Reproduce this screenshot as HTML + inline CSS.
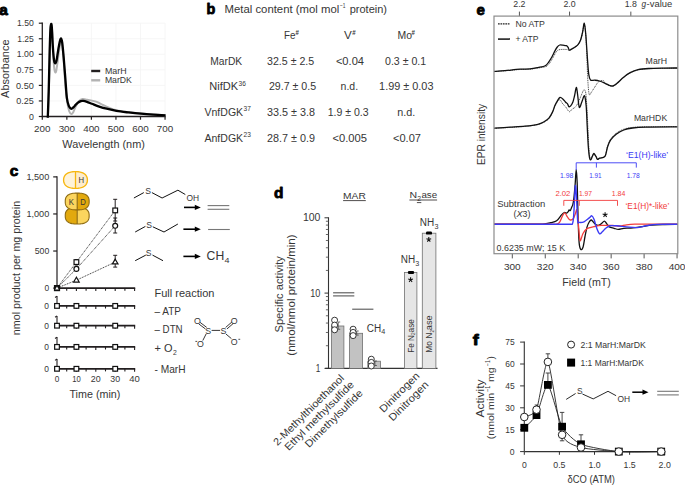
<!DOCTYPE html>
<html><head><meta charset="utf-8"><style>
html,body{margin:0;padding:0;background:#fff;}
svg{display:block;}
svg{font-family:"Liberation Sans", sans-serif;}
</style></head><body>
<svg fill="#363636" width="685" height="485" viewBox="0 0 685 485">
<rect width="685" height="485" fill="#fff"/>
<defs><clipPath id="clipa"><rect x="42" y="0" width="130" height="117"/></clipPath></defs>
<line x1="91.40" y1="23.20" x2="91.40" y2="116.50" stroke="#f4f4f4" stroke-width="0.8"/>
<line x1="115.95" y1="23.20" x2="115.95" y2="116.50" stroke="#f4f4f4" stroke-width="0.8"/>
<line x1="140.50" y1="23.20" x2="140.50" y2="116.50" stroke="#f4f4f4" stroke-width="0.8"/>
<line x1="165.05" y1="23.20" x2="165.05" y2="116.50" stroke="#f4f4f4" stroke-width="0.8"/>
<line x1="42.30" y1="100.95" x2="165.05" y2="100.95" stroke="#f4f4f4" stroke-width="0.8"/>
<line x1="42.30" y1="85.40" x2="165.05" y2="85.40" stroke="#f4f4f4" stroke-width="0.8"/>
<line x1="42.30" y1="69.85" x2="165.05" y2="69.85" stroke="#f4f4f4" stroke-width="0.8"/>
<line x1="42.30" y1="54.30" x2="165.05" y2="54.30" stroke="#f4f4f4" stroke-width="0.8"/>
<line x1="42.30" y1="38.75" x2="165.05" y2="38.75" stroke="#f4f4f4" stroke-width="0.8"/>
<line x1="42.30" y1="23.20" x2="165.05" y2="23.20" stroke="#f4f4f4" stroke-width="0.8"/>
<text x="-0.70" y="14.60" font-size="15" textLength="8.60" lengthAdjust="spacingAndGlyphs" font-weight="bold" fill="#000" stroke="#000" stroke-width="0.85" stroke-linejoin="round">a</text>
<line x1="38.80" y1="116.50" x2="42.30" y2="116.50" stroke="#231f20" stroke-width="1.2"/>
<text x="33.80" y="119.60" font-size="8.8" text-anchor="end" textLength="4.90" lengthAdjust="spacingAndGlyphs">0</text>
<line x1="38.80" y1="100.95" x2="42.30" y2="100.95" stroke="#231f20" stroke-width="1.2"/>
<text x="33.80" y="104.05" font-size="8.8" text-anchor="end" textLength="17.60" lengthAdjust="spacingAndGlyphs">0.25</text>
<line x1="38.80" y1="85.40" x2="42.30" y2="85.40" stroke="#231f20" stroke-width="1.2"/>
<text x="33.80" y="88.50" font-size="8.8" text-anchor="end" textLength="17.80" lengthAdjust="spacingAndGlyphs">0.50</text>
<line x1="38.80" y1="69.85" x2="42.30" y2="69.85" stroke="#231f20" stroke-width="1.2"/>
<text x="33.80" y="72.95" font-size="8.8" text-anchor="end" textLength="17.20" lengthAdjust="spacingAndGlyphs">0.75</text>
<line x1="38.80" y1="54.30" x2="42.30" y2="54.30" stroke="#231f20" stroke-width="1.2"/>
<text x="33.80" y="57.40" font-size="8.8" text-anchor="end" textLength="17.00" lengthAdjust="spacingAndGlyphs">1.00</text>
<line x1="38.80" y1="38.75" x2="42.30" y2="38.75" stroke="#231f20" stroke-width="1.2"/>
<text x="33.80" y="41.85" font-size="8.8" text-anchor="end" textLength="16.60" lengthAdjust="spacingAndGlyphs">1.25</text>
<line x1="38.80" y1="23.20" x2="42.30" y2="23.20" stroke="#231f20" stroke-width="1.2"/>
<text x="33.80" y="26.30" font-size="8.8" text-anchor="end" textLength="16.80" lengthAdjust="spacingAndGlyphs">1.50</text>
<line x1="42.30" y1="116.50" x2="42.30" y2="119.70" stroke="#231f20" stroke-width="1.2"/>
<text x="42.30" y="131.60" font-size="8.9" text-anchor="middle" textLength="16.40" lengthAdjust="spacingAndGlyphs">200</text>
<line x1="66.85" y1="116.50" x2="66.85" y2="119.70" stroke="#231f20" stroke-width="1.2"/>
<text x="66.85" y="131.60" font-size="8.9" text-anchor="middle" textLength="16.40" lengthAdjust="spacingAndGlyphs">300</text>
<line x1="91.40" y1="116.50" x2="91.40" y2="119.70" stroke="#231f20" stroke-width="1.2"/>
<text x="91.40" y="131.60" font-size="8.9" text-anchor="middle" textLength="16.40" lengthAdjust="spacingAndGlyphs">400</text>
<line x1="115.95" y1="116.50" x2="115.95" y2="119.70" stroke="#231f20" stroke-width="1.2"/>
<text x="115.95" y="131.60" font-size="8.9" text-anchor="middle" textLength="16.40" lengthAdjust="spacingAndGlyphs">500</text>
<line x1="140.50" y1="116.50" x2="140.50" y2="119.70" stroke="#231f20" stroke-width="1.2"/>
<text x="140.50" y="131.60" font-size="8.9" text-anchor="middle" textLength="16.40" lengthAdjust="spacingAndGlyphs">600</text>
<line x1="165.05" y1="116.50" x2="165.05" y2="119.70" stroke="#231f20" stroke-width="1.2"/>
<text x="165.05" y="131.60" font-size="8.9" text-anchor="middle" textLength="16.40" lengthAdjust="spacingAndGlyphs">700</text>
<line x1="42.30" y1="22.60" x2="42.30" y2="117.10" stroke="#231f20" stroke-width="1.3"/>
<line x1="41.70" y1="116.50" x2="165.65" y2="116.50" stroke="#231f20" stroke-width="1.3"/>
<text x="103.60" y="147.70" font-size="10.8" text-anchor="middle" textLength="82.60" lengthAdjust="spacingAndGlyphs">Wavelength (nm)</text>
<text x="8.90" y="68.70" font-size="10.8" text-anchor="middle" textLength="58.40" lengthAdjust="spacingAndGlyphs" transform="rotate(-90 8.90 68.70)">Absorbance</text>
<line x1="91.20" y1="71.00" x2="100.20" y2="71.00" stroke="#231f20" stroke-width="2.4"/>
<line x1="91.20" y1="80.30" x2="100.20" y2="80.30" stroke="#b3b3b3" stroke-width="2.4"/>
<text x="104.90" y="73.50" font-size="9.6" textLength="21.70" lengthAdjust="spacingAndGlyphs">MarH</text>
<text x="104.90" y="82.90" font-size="9.6" textLength="27.00" lengthAdjust="spacingAndGlyphs">MarDK</text>
<path d="M47.96,117.74 C48.08,114.43 48.41,107.90 48.69,97.84 C48.98,87.78 49.35,68.81 49.67,57.41 C50.00,46.01 50.37,34.81 50.66,29.42 C50.94,24.03 51.15,24.55 51.39,25.07 C51.64,25.58 51.84,27.66 52.13,32.53 C52.42,37.40 52.74,48.18 53.11,54.30 C53.48,60.42 53.97,66.22 54.34,69.23 C54.71,72.23 54.99,72.13 55.32,72.34 C55.65,72.55 55.89,72.44 56.30,70.47 C56.71,68.50 57.24,64.25 57.78,60.52 C58.31,56.79 58.96,51.19 59.49,48.08 C60.03,44.97 60.52,42.27 60.97,41.86 C61.42,41.45 61.74,42.48 62.19,45.59 C62.64,48.70 63.14,53.89 63.67,60.52 C64.20,67.15 64.77,78.35 65.39,85.40 C66.00,92.45 66.70,98.46 67.35,102.82 C68.00,107.17 68.66,109.68 69.31,111.52 C69.97,113.37 70.62,113.78 71.28,113.89 C71.93,113.99 72.46,113.47 73.24,112.15 C74.02,110.82 74.96,107.79 75.94,105.93 C76.92,104.06 78.03,102.09 79.13,100.95 C80.24,99.81 81.26,99.29 82.57,99.08 C83.88,98.88 85.44,99.45 86.99,99.71 C88.54,99.97 90.26,100.28 91.90,100.64 C93.54,101.00 95.17,101.26 96.81,101.88 C98.45,102.50 99.67,103.39 101.72,104.37 C103.77,105.36 106.63,106.81 109.08,107.79 C111.54,108.78 113.18,109.53 116.45,110.28 C119.72,111.03 124.63,111.73 128.72,112.27 C132.82,112.81 136.91,113.14 141.00,113.51 C145.09,113.89 149.18,114.22 153.27,114.51 C157.37,114.80 163.50,115.13 165.55,115.26" stroke="#b3b3b3" stroke-width="2.0" fill="none" stroke-linejoin="round"/>
<path d="M47.78,117.74 C47.94,113.39 48.38,102.71 48.69,91.62 C49.01,80.53 49.39,61.56 49.67,51.19 C49.96,40.82 50.16,33.98 50.41,29.42 C50.66,24.86 50.90,24.03 51.15,23.82 C51.39,23.61 51.60,24.34 51.88,28.18 C52.17,32.01 52.50,41.45 52.87,46.84 C53.23,52.23 53.68,57.77 54.09,60.52 C54.50,63.27 54.91,63.32 55.32,63.32 C55.73,63.32 56.10,62.54 56.55,60.52 C57.00,58.50 57.49,54.30 58.02,51.19 C58.55,48.08 59.25,43.99 59.74,41.86 C60.23,39.73 60.56,38.34 60.97,38.44 C61.38,38.54 61.74,39.32 62.19,42.48 C62.64,45.64 63.14,51.29 63.67,57.41 C64.20,63.53 64.85,72.44 65.39,79.18 C65.92,85.92 66.29,93.38 66.86,97.84 C67.43,102.30 68.17,104.14 68.82,105.93 C69.48,107.71 70.21,108.12 70.79,108.54 C71.36,108.95 71.61,108.85 72.26,108.41 C72.91,107.98 73.81,106.86 74.72,105.93 C75.62,104.99 76.64,103.62 77.66,102.82 C78.68,102.01 79.91,101.39 80.85,101.07 C81.79,100.76 82.28,100.82 83.31,100.95 C84.33,101.08 85.56,101.42 86.99,101.88 C88.42,102.35 89.85,102.97 91.90,103.75 C93.95,104.53 96.81,105.72 99.26,106.55 C101.72,107.38 103.77,108.00 106.63,108.72 C109.49,109.45 112.77,110.28 116.45,110.90 C120.13,111.52 124.63,111.99 128.72,112.46 C132.82,112.92 136.91,113.34 141.00,113.70 C145.09,114.06 149.18,114.35 153.27,114.63 C157.37,114.91 163.50,115.26 165.55,115.38" stroke="#000" stroke-width="2.3" fill="none" stroke-linejoin="round"/>
<text x="206.60" y="14.40" font-size="15.2" textLength="8.80" lengthAdjust="spacingAndGlyphs" font-weight="bold" fill="#000" stroke="#000" stroke-width="0.85" stroke-linejoin="round">b</text>
<text x="224.50" y="13.00" font-size="10.6" textLength="114.80" lengthAdjust="spacingAndGlyphs">Metal content (mol mol</text>
<text x="340.00" y="8.00" font-size="6.6" textLength="5.50" lengthAdjust="spacingAndGlyphs">−1</text>
<text x="349.70" y="13.00" font-size="10.6" textLength="37.30" lengthAdjust="spacingAndGlyphs">protein)</text>
<text x="284.00" y="38.90" font-size="10.6" textLength="11.50" lengthAdjust="spacingAndGlyphs">Fe</text>
<text x="295.50" y="35.20" font-size="6.6" textLength="3.40" lengthAdjust="spacingAndGlyphs" font-weight="600">#</text>
<text x="343.90" y="38.90" font-size="10.6" textLength="7.80" lengthAdjust="spacingAndGlyphs">V</text>
<text x="352.30" y="35.20" font-size="6.6" textLength="3.40" lengthAdjust="spacingAndGlyphs" font-weight="600">#</text>
<text x="397.50" y="38.90" font-size="10.6" textLength="14.50" lengthAdjust="spacingAndGlyphs">Mo</text>
<text x="411.60" y="35.20" font-size="6.6" textLength="3.40" lengthAdjust="spacingAndGlyphs" font-weight="600">#</text>
<text x="210.30" y="64.80" font-size="10.6" textLength="31.90" lengthAdjust="spacingAndGlyphs">MarDK</text>
<text x="267.00" y="64.80" font-size="10.6" textLength="47.20" lengthAdjust="spacingAndGlyphs">32.5 ± 2.5</text>
<text x="335.90" y="64.80" font-size="10.6" textLength="28.10" lengthAdjust="spacingAndGlyphs">&lt;0.04</text>
<text x="385.00" y="64.80" font-size="10.6" textLength="41.20" lengthAdjust="spacingAndGlyphs">0.3 ± 0.1</text>
<text x="209.30" y="90.20" font-size="10.6" textLength="28.80" lengthAdjust="spacingAndGlyphs">NifDK</text>
<text x="238.50" y="85.70" font-size="7.6" textLength="7.30" lengthAdjust="spacingAndGlyphs">36</text>
<text x="268.90" y="90.20" font-size="10.6" textLength="47.20" lengthAdjust="spacingAndGlyphs">29.7 ± 0.5</text>
<text x="340.60" y="90.20" font-size="10.6" textLength="17.50" lengthAdjust="spacingAndGlyphs">n.d.</text>
<text x="379.10" y="90.20" font-size="10.6" textLength="54.40" lengthAdjust="spacingAndGlyphs">1.99 ± 0.03</text>
<text x="204.50" y="115.90" font-size="10.6" textLength="38.60" lengthAdjust="spacingAndGlyphs">VnfDGK</text>
<text x="243.50" y="111.40" font-size="7.6" textLength="7.30" lengthAdjust="spacingAndGlyphs">37</text>
<text x="267.00" y="115.90" font-size="10.6" textLength="47.90" lengthAdjust="spacingAndGlyphs">33.5 ± 3.8</text>
<text x="327.70" y="115.90" font-size="10.6" textLength="40.90" lengthAdjust="spacingAndGlyphs">1.9 ± 0.3</text>
<text x="397.30" y="115.90" font-size="10.6" textLength="18.00" lengthAdjust="spacingAndGlyphs">n.d.</text>
<text x="204.50" y="141.70" font-size="10.6" textLength="38.60" lengthAdjust="spacingAndGlyphs">AnfDGK</text>
<text x="243.50" y="137.20" font-size="7.6" textLength="7.30" lengthAdjust="spacingAndGlyphs">23</text>
<text x="267.00" y="141.70" font-size="10.6" textLength="47.90" lengthAdjust="spacingAndGlyphs">28.7 ± 0.9</text>
<text x="332.40" y="141.70" font-size="10.6" textLength="34.60" lengthAdjust="spacingAndGlyphs">&lt;0.005</text>
<text x="393.00" y="141.70" font-size="10.6" textLength="28.00" lengthAdjust="spacingAndGlyphs">&lt;0.07</text>
<text x="476.40" y="14.80" font-size="15.2" textLength="8.40" lengthAdjust="spacingAndGlyphs" font-weight="bold" fill="#000" stroke="#000" stroke-width="0.85" stroke-linejoin="round">e</text>
<line x1="519.41" y1="16.10" x2="519.41" y2="11.60" stroke="#555" stroke-width="1.0"/>
<text x="519.41" y="6.70" font-size="8.8" text-anchor="middle" textLength="12.20" lengthAdjust="spacingAndGlyphs">2.2</text>
<line x1="569.55" y1="16.10" x2="569.55" y2="11.60" stroke="#555" stroke-width="1.0"/>
<text x="569.55" y="6.70" font-size="8.8" text-anchor="middle" textLength="12.20" lengthAdjust="spacingAndGlyphs">2.0</text>
<line x1="630.83" y1="16.10" x2="630.83" y2="11.60" stroke="#555" stroke-width="1.0"/>
<text x="630.83" y="6.70" font-size="8.8" text-anchor="middle" textLength="12.20" lengthAdjust="spacingAndGlyphs">1.8</text>
<text x="641.60" y="6.70" font-size="8.8" textLength="4.60" lengthAdjust="spacingAndGlyphs" font-style="italic">g</text>
<text x="646.60" y="6.70" font-size="8.8" textLength="25.60" lengthAdjust="spacingAndGlyphs">-value</text>
<line x1="512.30" y1="253.70" x2="512.30" y2="258.40" stroke="#555" stroke-width="1.0"/>
<text x="512.30" y="270.20" font-size="8.6" text-anchor="middle" textLength="16.80" lengthAdjust="spacingAndGlyphs">300</text>
<line x1="545.25" y1="253.70" x2="545.25" y2="258.40" stroke="#555" stroke-width="1.0"/>
<text x="545.25" y="270.20" font-size="8.6" text-anchor="middle" textLength="16.80" lengthAdjust="spacingAndGlyphs">320</text>
<line x1="578.20" y1="253.70" x2="578.20" y2="258.40" stroke="#555" stroke-width="1.0"/>
<text x="578.20" y="270.20" font-size="8.6" text-anchor="middle" textLength="16.80" lengthAdjust="spacingAndGlyphs">340</text>
<line x1="611.15" y1="253.70" x2="611.15" y2="258.40" stroke="#555" stroke-width="1.0"/>
<text x="611.15" y="270.20" font-size="8.6" text-anchor="middle" textLength="16.80" lengthAdjust="spacingAndGlyphs">360</text>
<line x1="644.10" y1="253.70" x2="644.10" y2="258.40" stroke="#555" stroke-width="1.0"/>
<text x="644.10" y="270.20" font-size="8.6" text-anchor="middle" textLength="16.80" lengthAdjust="spacingAndGlyphs">380</text>
<line x1="677.05" y1="253.70" x2="677.05" y2="258.40" stroke="#555" stroke-width="1.0"/>
<text x="677.05" y="270.20" font-size="8.6" text-anchor="middle" textLength="16.80" lengthAdjust="spacingAndGlyphs">400</text>
<text x="586.60" y="286.40" font-size="10.6" text-anchor="middle" textLength="48.50" lengthAdjust="spacingAndGlyphs">Field (mT)</text>
<text x="485.30" y="134.50" font-size="10.0" text-anchor="middle" textLength="61.20" lengthAdjust="spacingAndGlyphs" transform="rotate(-90 485.30 134.50)">EPR intensity</text>
<line x1="498.00" y1="23.80" x2="509.90" y2="23.80" stroke="#222" stroke-width="1.2" stroke-dasharray="1.7 0.75"/>
<line x1="498.00" y1="39.10" x2="510.00" y2="39.10" stroke="#111" stroke-width="1.5"/>
<text x="515.40" y="26.60" font-size="8.4" textLength="29.50" lengthAdjust="spacingAndGlyphs">No ATP</text>
<text x="515.40" y="42.40" font-size="8.4" textLength="23.00" lengthAdjust="spacingAndGlyphs">+ ATP</text>
<text x="645.60" y="63.60" font-size="9.0" textLength="21.40" lengthAdjust="spacingAndGlyphs">MarH</text>
<text x="633.90" y="121.20" font-size="9.0" textLength="33.30" lengthAdjust="spacingAndGlyphs">MarHDK</text>
<text x="497.20" y="207.00" font-size="9.0" textLength="48.00" lengthAdjust="spacingAndGlyphs">Subtraction</text>
<text x="513.40" y="217.10" font-size="9.0">(</text>
<text x="516.60" y="217.10" font-size="9.0" textLength="6.20" lengthAdjust="spacingAndGlyphs" font-style="italic">X</text>
<text x="522.60" y="217.10" font-size="9.0" textLength="4.90" lengthAdjust="spacingAndGlyphs">3</text>
<text x="527.40" y="217.10" font-size="9.0">)</text>
<text x="496.60" y="250.80" font-size="8.6" textLength="68.60" lengthAdjust="spacingAndGlyphs">0.6235 mW; 15 K</text>
<path d="M494.20,71.60 C496.00,71.47 500.70,71.15 505.00,70.80 C509.30,70.45 515.83,69.77 520.00,69.50 C524.17,69.23 527.02,69.45 530.00,69.20 C532.98,68.95 535.27,68.43 537.90,68.00 C540.53,67.57 543.83,67.43 545.80,66.60 C547.77,65.77 548.45,64.60 549.70,63.00 C550.95,61.40 552.18,58.90 553.30,57.00 C554.42,55.10 555.45,52.80 556.40,51.60 C557.35,50.40 557.90,50.17 559.00,49.80 C560.10,49.43 561.58,49.43 563.00,49.40 C564.42,49.37 566.45,49.42 567.50,49.60 C568.55,49.78 568.65,50.50 569.30,50.50 C569.95,50.50 570.43,50.13 571.40,49.60 C572.37,49.07 574.00,48.10 575.10,47.30 C576.20,46.50 577.08,45.98 578.00,44.80 C578.92,43.62 579.83,42.25 580.60,40.20 C581.37,38.15 581.98,35.20 582.60,32.50 C583.22,29.80 583.77,23.42 584.30,24.00 C584.83,24.58 585.35,30.00 585.80,36.00 C586.25,42.00 586.67,52.67 587.00,60.00 C587.33,67.33 587.43,74.27 587.80,80.00 C588.17,85.73 588.58,92.40 589.20,94.40 C589.82,96.40 590.58,93.20 591.50,92.00 C592.42,90.80 593.50,88.93 594.70,87.20 C595.90,85.47 597.27,82.70 598.70,81.60 C600.13,80.50 602.22,80.27 603.30,80.60 C604.38,80.93 604.12,82.72 605.20,83.60 C606.28,84.48 608.48,85.45 609.80,85.90 C611.12,86.35 611.90,86.68 613.10,86.30 C614.30,85.92 615.25,85.07 617.00,83.60 C618.75,82.13 621.40,79.28 623.60,77.50 C625.80,75.72 627.78,74.17 630.20,72.90 C632.62,71.63 635.03,70.60 638.10,69.90 C641.17,69.20 644.12,68.97 648.60,68.70 C653.08,68.43 660.17,68.38 665.00,68.30 C669.83,68.22 675.50,68.22 677.60,68.20" stroke="#333" stroke-width="0.9" fill="none" stroke-dasharray="1 0.8" stroke-linejoin="round"/>
<path d="M494.20,128.40 C496.83,128.23 504.87,127.73 510.00,127.40 C515.13,127.07 520.35,126.88 525.00,126.40 C529.65,125.92 534.68,125.25 537.90,124.50 C541.12,123.75 542.47,122.88 544.30,121.90 C546.13,120.92 547.52,120.20 548.90,118.60 C550.28,117.00 551.60,114.37 552.60,112.30 C553.60,110.23 554.12,107.95 554.90,106.20 C555.68,104.45 556.45,102.87 557.30,101.80 C558.15,100.73 559.08,99.43 560.00,99.80 C560.92,100.17 561.87,102.83 562.80,104.00 C563.73,105.17 564.52,105.52 565.60,106.80 C566.68,108.08 568.22,111.32 569.30,111.70 C570.38,112.08 571.15,109.83 572.10,109.10 C573.05,108.37 574.02,108.32 575.00,107.30 C575.98,106.28 576.85,105.25 578.00,103.00 C579.15,100.75 580.92,95.98 581.90,93.80 C582.88,91.62 583.25,90.02 583.90,89.90 C584.55,89.78 585.28,89.75 585.80,93.10 C586.32,96.45 586.63,103.85 587.00,110.00 C587.37,116.15 587.67,123.33 588.00,130.00 C588.33,136.67 588.63,145.33 589.00,150.00 C589.37,154.67 589.62,157.00 590.20,158.00 C590.78,159.00 591.88,156.70 592.50,156.00 C593.12,155.30 593.30,153.68 593.90,153.80 C594.50,153.92 595.50,155.78 596.10,156.70 C596.70,157.62 596.90,159.05 597.50,159.30 C598.10,159.55 598.72,158.52 599.70,158.20 C600.68,157.88 602.43,157.93 603.40,157.40 C604.37,156.87 604.78,156.98 605.50,155.00 C606.22,153.02 606.83,148.18 607.70,145.50 C608.57,142.82 609.23,140.97 610.70,138.90 C612.17,136.83 614.32,134.72 616.50,133.10 C618.68,131.48 621.12,130.15 623.80,129.20 C626.48,128.25 628.95,127.80 632.60,127.40 C636.25,127.00 638.20,126.93 645.70,126.80 C653.20,126.67 672.28,126.63 677.60,126.60" stroke="#333" stroke-width="0.9" fill="none" stroke-dasharray="1 0.8" stroke-linejoin="round"/>
<path d="M494.20,71.40 C496.00,71.27 500.70,70.97 505.00,70.60 C509.30,70.23 515.83,69.48 520.00,69.20 C524.17,68.92 527.02,69.17 530.00,68.90 C532.98,68.63 535.35,68.12 537.90,67.60 C540.45,67.08 543.45,66.80 545.30,65.80 C547.15,64.80 547.88,63.10 549.00,61.60 C550.12,60.10 551.03,58.55 552.00,56.80 C552.97,55.05 553.92,52.73 554.80,51.10 C555.68,49.47 556.47,48.02 557.30,47.00 C558.13,45.98 558.83,45.30 559.80,45.00 C560.77,44.70 562.00,45.08 563.10,45.20 C564.20,45.32 565.57,45.35 566.40,45.70 C567.23,46.05 567.62,46.57 568.10,47.30 C568.58,48.03 568.75,49.80 569.30,50.10 C569.85,50.40 570.43,49.62 571.40,49.10 C572.37,48.58 574.00,47.75 575.10,47.00 C576.20,46.25 577.08,45.77 578.00,44.60 C578.92,43.43 579.83,42.08 580.60,40.00 C581.37,37.92 581.98,34.90 582.60,32.10 C583.22,29.30 583.77,22.77 584.30,23.20 C584.83,23.63 585.25,28.40 585.80,34.70 C586.35,41.00 587.10,54.33 587.60,61.00 C588.10,67.67 588.32,71.53 588.80,74.70 C589.28,77.87 589.52,79.08 590.50,80.00 C591.48,80.92 593.23,80.03 594.70,80.20 C596.17,80.37 597.55,80.48 599.30,81.00 C601.05,81.52 603.45,82.55 605.20,83.30 C606.95,84.05 608.48,85.07 609.80,85.50 C611.12,85.93 611.90,86.27 613.10,85.90 C614.30,85.53 615.25,84.73 617.00,83.30 C618.75,81.87 621.40,79.07 623.60,77.30 C625.80,75.53 627.78,73.97 630.20,72.70 C632.62,71.43 635.03,70.40 638.10,69.70 C641.17,69.00 644.12,68.77 648.60,68.50 C653.08,68.23 660.17,68.18 665.00,68.10 C669.83,68.02 675.50,68.02 677.60,68.00" stroke="#111" stroke-width="1.3" fill="none" stroke-linejoin="round"/>
<path d="M494.20,128.20 C496.83,128.03 504.87,127.53 510.00,127.20 C515.13,126.87 520.35,126.68 525.00,126.20 C529.65,125.72 534.68,125.07 537.90,124.30 C541.12,123.53 542.47,122.62 544.30,121.60 C546.13,120.58 547.52,119.82 548.90,118.20 C550.28,116.58 551.60,114.00 552.60,111.90 C553.60,109.80 554.05,107.53 554.90,105.60 C555.75,103.67 556.85,101.65 557.70,100.30 C558.55,98.95 559.15,97.73 560.00,97.50 C560.85,97.27 561.87,98.12 562.80,98.90 C563.73,99.68 564.82,101.38 565.60,102.20 C566.38,103.02 566.95,103.07 567.50,103.80 C568.05,104.53 568.37,106.25 568.90,106.60 C569.43,106.95 570.02,106.72 570.70,105.90 C571.38,105.08 572.35,103.43 573.00,101.70 C573.65,99.97 574.05,97.88 574.60,95.50 C575.15,93.12 575.80,87.57 576.30,87.40 C576.80,87.23 577.10,91.18 577.60,94.50 C578.10,97.82 578.58,106.10 579.30,107.30 C580.02,108.50 581.03,103.62 581.90,101.70 C582.77,99.78 583.78,95.03 584.50,95.80 C585.22,96.57 585.75,101.27 586.20,106.30 C586.65,111.33 586.85,119.30 587.20,126.00 C587.55,132.70 587.90,141.13 588.30,146.50 C588.70,151.87 589.17,156.02 589.60,158.20 C590.03,160.38 590.42,159.97 590.90,159.60 C591.38,159.23 592.00,157.02 592.50,156.00 C593.00,154.98 593.30,153.38 593.90,153.50 C594.50,153.62 595.50,155.73 596.10,156.70 C596.70,157.67 596.90,159.05 597.50,159.30 C598.10,159.55 598.72,158.52 599.70,158.20 C600.68,157.88 602.43,157.88 603.40,157.40 C604.37,156.92 604.78,157.12 605.50,155.30 C606.22,153.48 606.83,149.07 607.70,146.50 C608.57,143.93 609.23,141.97 610.70,139.90 C612.17,137.83 614.32,135.75 616.50,134.10 C618.68,132.45 621.12,131.02 623.80,130.00 C626.48,128.98 628.95,128.48 632.60,128.00 C636.25,127.52 638.20,127.30 645.70,127.10 C653.20,126.90 672.28,126.85 677.60,126.80" stroke="#111" stroke-width="1.3" fill="none" stroke-linejoin="round"/>
<path d="M494.20,224.20 C500.17,224.20 521.90,224.22 530.00,224.20 C538.10,224.18 539.35,224.35 542.80,224.10 C546.25,223.85 548.40,223.25 550.70,222.70 C553.00,222.15 554.80,222.10 556.60,220.80 C558.40,219.50 560.20,216.28 561.50,214.90 C562.80,213.52 563.55,212.78 564.40,212.50 C565.25,212.22 565.97,213.35 566.60,213.20 C567.23,213.05 567.78,212.15 568.20,211.60 C568.62,211.05 568.75,210.07 569.10,209.90 C569.45,209.73 569.88,211.02 570.30,210.60 C570.72,210.18 571.18,208.40 571.60,207.40 C572.02,206.40 572.42,206.17 572.80,204.60 C573.18,203.03 573.50,201.52 573.90,198.00 C574.30,194.48 574.82,188.23 575.20,183.50 C575.58,178.77 575.87,169.60 576.20,169.60 C576.53,169.60 576.88,175.30 577.20,183.50 C577.52,191.70 577.78,208.98 578.10,218.80 C578.42,228.62 578.67,237.30 579.10,242.40 C579.53,247.50 580.05,248.58 580.70,249.40 C581.35,250.22 582.28,249.45 583.00,247.30 C583.72,245.15 584.32,239.90 585.00,236.50 C585.68,233.10 586.40,229.32 587.10,226.90 C587.80,224.48 588.52,223.15 589.20,222.00 C589.88,220.85 590.52,220.00 591.20,220.00 C591.88,220.00 592.48,221.20 593.30,222.00 C594.12,222.80 595.17,224.27 596.10,224.80 C597.03,225.33 597.98,225.43 598.90,225.20 C599.82,224.97 600.68,224.08 601.60,223.40 C602.52,222.72 603.58,221.10 604.40,221.10 C605.22,221.10 605.68,222.43 606.50,223.40 C607.32,224.37 608.03,226.08 609.30,226.90 C610.57,227.72 612.60,227.88 614.10,228.30 C615.60,228.72 616.68,229.40 618.30,229.40 C619.92,229.40 621.72,228.53 623.80,228.30 C625.88,228.07 628.02,228.23 630.80,228.00 C633.58,227.77 637.03,227.37 640.50,226.90 C643.97,226.43 647.90,225.60 651.60,225.20 C655.30,224.80 658.37,224.65 662.70,224.50 C667.03,224.35 675.12,224.33 677.60,224.30" stroke="#111" stroke-width="1.3" fill="none" stroke-linejoin="round"/>
<path d="M494.20,224.20 C503.50,224.20 539.60,224.20 550.00,224.20 C560.40,224.20 555.02,224.50 556.60,224.20 C558.18,223.90 558.52,223.78 559.50,222.40 C560.48,221.02 561.62,217.48 562.50,215.90 C563.38,214.32 563.98,212.73 564.80,212.90 C565.62,213.07 566.55,215.75 567.40,216.90 C568.25,218.05 568.93,219.48 569.90,219.80 C570.87,220.12 572.28,219.85 573.20,218.80 C574.12,217.75 574.77,214.97 575.40,213.50 C576.03,212.03 576.50,208.13 577.00,210.00 C577.50,211.87 577.95,219.97 578.40,224.70 C578.85,229.43 579.33,235.78 579.70,238.40 C580.07,241.02 580.05,241.22 580.60,240.40 C581.15,239.58 581.93,235.47 583.00,233.50 C584.07,231.53 585.20,229.73 587.00,228.60 C588.80,227.47 591.37,227.23 593.80,226.70 C596.23,226.17 598.45,225.60 601.60,225.40 C604.75,225.20 609.68,225.40 612.70,225.50 C615.72,225.60 617.38,226.12 619.70,226.00 C622.02,225.88 624.07,225.10 626.60,224.80 C629.13,224.50 631.43,224.32 634.90,224.20 C638.37,224.08 640.28,224.10 647.40,224.10 C654.52,224.10 672.57,224.18 677.60,224.20" stroke="#f23c3c" stroke-width="1.3" fill="none" stroke-linejoin="round"/>
<path d="M494.20,224.20 C505.17,224.20 547.28,224.20 560.00,224.20 C572.72,224.20 568.43,224.25 570.50,224.20 C572.57,224.15 571.92,224.77 572.40,223.90 C572.88,223.03 573.08,222.15 573.40,219.00 C573.72,215.85 573.97,210.58 574.30,205.00 C574.63,199.42 575.02,186.47 575.40,185.50 C575.78,184.53 576.22,193.32 576.60,199.20 C576.98,205.08 577.28,216.93 577.70,220.80 C578.12,224.67 578.05,222.23 579.10,222.40 C580.15,222.57 582.32,222.55 584.00,221.80 C585.68,221.05 587.88,218.90 589.20,217.90 C590.52,216.90 591.10,215.57 591.90,215.80 C592.70,216.03 593.18,217.22 594.00,219.30 C594.82,221.38 595.87,225.88 596.80,228.30 C597.73,230.72 598.68,233.22 599.60,233.80 C600.52,234.38 601.27,232.72 602.30,231.80 C603.33,230.88 604.52,229.30 605.80,228.30 C607.08,227.30 608.15,226.22 610.00,225.80 C611.85,225.38 614.13,225.62 616.90,225.80 C619.67,225.98 623.13,226.60 626.60,226.90 C630.07,227.20 634.23,227.83 637.70,227.60 C641.17,227.37 644.17,226.03 647.40,225.50 C650.63,224.97 652.07,224.60 657.10,224.40 C662.13,224.20 674.18,224.32 677.60,224.30" stroke="#3a3af5" stroke-width="1.4" fill="none" stroke-linejoin="round"/>
<path d="M605.10,214.80 L605.10,212.20 M605.10,214.80 L607.57,214.00 M605.10,214.80 L606.63,216.90 M605.10,214.80 L603.57,216.90 M605.10,214.80 L602.63,214.00 " stroke="#111" stroke-width="1.1" stroke-linecap="butt" fill="none"/>
<path d="M576.2,170 L576.2,162.8 L636.3,162.8 L636.3,167.6 M596.4,162.8 L596.4,167.6" stroke="#3a3af5" stroke-width="0.9" fill="none"/>
<text x="566.60" y="177.70" font-size="7.2" text-anchor="middle" textLength="13.40" lengthAdjust="spacingAndGlyphs" fill="#3a3af5">1.98</text>
<text x="595.40" y="177.70" font-size="7.2" text-anchor="middle" textLength="12.40" lengthAdjust="spacingAndGlyphs" fill="#3a3af5">1.91</text>
<text x="633.20" y="177.70" font-size="7.2" text-anchor="middle" textLength="13.00" lengthAdjust="spacingAndGlyphs" fill="#3a3af5">1.78</text>
<text x="626.00" y="158.20" font-size="9.0" textLength="42.30" lengthAdjust="spacingAndGlyphs" fill="#3a3af5">‘E1(H)-like’</text>
<path d="M563.8,205.8 L563.8,200.4 L617.5,200.4 L617.5,205.8 M579.3,200.4 L579.3,205.8" stroke="#f23c3c" stroke-width="0.9" fill="none"/>
<text x="562.90" y="195.70" font-size="7.2" text-anchor="middle" textLength="15.00" lengthAdjust="spacingAndGlyphs" fill="#f23c3c">2.02</text>
<text x="585.40" y="195.70" font-size="7.2" text-anchor="middle" textLength="13.00" lengthAdjust="spacingAndGlyphs" fill="#f23c3c">1.97</text>
<text x="618.60" y="195.70" font-size="7.2" text-anchor="middle" textLength="13.50" lengthAdjust="spacingAndGlyphs" fill="#f23c3c">1.84</text>
<text x="625.50" y="208.50" font-size="9.0" textLength="43.80" lengthAdjust="spacingAndGlyphs" fill="#f23c3c">‘E1(H)*-like’</text>
<rect x="494.0" y="16.1" width="183.79999999999995" height="237.6" fill="none" stroke="#8c8c8c" stroke-width="1.2"/>
<text x="9.70" y="175.80" font-size="15.2" textLength="8.60" lengthAdjust="spacingAndGlyphs" font-weight="bold" fill="#000" stroke="#000" stroke-width="0.85" stroke-linejoin="round">c</text>
<line x1="57.00" y1="176.29" x2="57.00" y2="288.10" stroke="#231f20" stroke-width="1.2"/>
<line x1="53.20" y1="288.10" x2="57.00" y2="288.10" stroke="#231f20" stroke-width="1.2"/>
<text x="49.30" y="291.00" font-size="8.4" text-anchor="end" textLength="4.70" lengthAdjust="spacingAndGlyphs">0</text>
<line x1="53.20" y1="251.03" x2="57.00" y2="251.03" stroke="#231f20" stroke-width="1.2"/>
<text x="49.30" y="253.93" font-size="8.4" text-anchor="end" textLength="14.60" lengthAdjust="spacingAndGlyphs">500</text>
<line x1="53.20" y1="213.96" x2="57.00" y2="213.96" stroke="#231f20" stroke-width="1.2"/>
<text x="49.30" y="216.86" font-size="8.4" text-anchor="end" textLength="22.90" lengthAdjust="spacingAndGlyphs">1,000</text>
<line x1="53.20" y1="176.89" x2="57.00" y2="176.89" stroke="#231f20" stroke-width="1.2"/>
<text x="49.30" y="179.79" font-size="8.4" text-anchor="end" textLength="22.90" lengthAdjust="spacingAndGlyphs">1,500</text>
<text x="19.80" y="268.00" font-size="10.5" text-anchor="middle" textLength="134.30" lengthAdjust="spacingAndGlyphs" transform="rotate(-90 19.80 268.00)">nmol product per mg protein</text>
<line x1="56.40" y1="288.10" x2="135.20" y2="288.10" stroke="#231f20" stroke-width="1.7"/>
<line x1="66.70" y1="288.10" x2="66.70" y2="290.70" stroke="#231f20" stroke-width="1.1"/>
<line x1="76.40" y1="288.10" x2="76.40" y2="291.10" stroke="#231f20" stroke-width="1.1"/>
<line x1="86.10" y1="288.10" x2="86.10" y2="290.70" stroke="#231f20" stroke-width="1.1"/>
<line x1="95.80" y1="288.10" x2="95.80" y2="291.10" stroke="#231f20" stroke-width="1.1"/>
<line x1="105.50" y1="288.10" x2="105.50" y2="290.70" stroke="#231f20" stroke-width="1.1"/>
<line x1="115.20" y1="288.10" x2="115.20" y2="291.10" stroke="#231f20" stroke-width="1.1"/>
<line x1="124.90" y1="288.10" x2="124.90" y2="290.70" stroke="#231f20" stroke-width="1.1"/>
<line x1="134.60" y1="288.10" x2="134.60" y2="291.10" stroke="#231f20" stroke-width="1.1"/>
<line x1="56.40" y1="305.90" x2="135.20" y2="305.90" stroke="#231f20" stroke-width="1.7"/>
<line x1="66.70" y1="305.90" x2="66.70" y2="308.50" stroke="#231f20" stroke-width="1.1"/>
<line x1="76.40" y1="305.90" x2="76.40" y2="308.90" stroke="#231f20" stroke-width="1.1"/>
<line x1="86.10" y1="305.90" x2="86.10" y2="308.50" stroke="#231f20" stroke-width="1.1"/>
<line x1="95.80" y1="305.90" x2="95.80" y2="308.90" stroke="#231f20" stroke-width="1.1"/>
<line x1="105.50" y1="305.90" x2="105.50" y2="308.50" stroke="#231f20" stroke-width="1.1"/>
<line x1="115.20" y1="305.90" x2="115.20" y2="308.90" stroke="#231f20" stroke-width="1.1"/>
<line x1="124.90" y1="305.90" x2="124.90" y2="308.50" stroke="#231f20" stroke-width="1.1"/>
<line x1="134.60" y1="305.90" x2="134.60" y2="308.90" stroke="#231f20" stroke-width="1.1"/>
<line x1="57.00" y1="296.10" x2="57.00" y2="305.90" stroke="#231f20" stroke-width="1.1"/>
<line x1="55.10" y1="297.50" x2="57.00" y2="296.10" stroke="#231f20" stroke-width="1.1"/>
<text x="49.00" y="308.80" font-size="8.4" text-anchor="end" textLength="4.70" lengthAdjust="spacingAndGlyphs">0</text>
<line x1="56.40" y1="325.70" x2="135.20" y2="325.70" stroke="#231f20" stroke-width="1.7"/>
<line x1="66.70" y1="325.70" x2="66.70" y2="328.30" stroke="#231f20" stroke-width="1.1"/>
<line x1="76.40" y1="325.70" x2="76.40" y2="328.70" stroke="#231f20" stroke-width="1.1"/>
<line x1="86.10" y1="325.70" x2="86.10" y2="328.30" stroke="#231f20" stroke-width="1.1"/>
<line x1="95.80" y1="325.70" x2="95.80" y2="328.70" stroke="#231f20" stroke-width="1.1"/>
<line x1="105.50" y1="325.70" x2="105.50" y2="328.30" stroke="#231f20" stroke-width="1.1"/>
<line x1="115.20" y1="325.70" x2="115.20" y2="328.70" stroke="#231f20" stroke-width="1.1"/>
<line x1="124.90" y1="325.70" x2="124.90" y2="328.30" stroke="#231f20" stroke-width="1.1"/>
<line x1="134.60" y1="325.70" x2="134.60" y2="328.70" stroke="#231f20" stroke-width="1.1"/>
<line x1="57.00" y1="315.90" x2="57.00" y2="325.70" stroke="#231f20" stroke-width="1.1"/>
<line x1="55.10" y1="317.30" x2="57.00" y2="315.90" stroke="#231f20" stroke-width="1.1"/>
<text x="49.00" y="328.60" font-size="8.4" text-anchor="end" textLength="4.70" lengthAdjust="spacingAndGlyphs">0</text>
<line x1="56.40" y1="346.90" x2="135.20" y2="346.90" stroke="#231f20" stroke-width="1.7"/>
<line x1="66.70" y1="346.90" x2="66.70" y2="349.50" stroke="#231f20" stroke-width="1.1"/>
<line x1="76.40" y1="346.90" x2="76.40" y2="349.90" stroke="#231f20" stroke-width="1.1"/>
<line x1="86.10" y1="346.90" x2="86.10" y2="349.50" stroke="#231f20" stroke-width="1.1"/>
<line x1="95.80" y1="346.90" x2="95.80" y2="349.90" stroke="#231f20" stroke-width="1.1"/>
<line x1="105.50" y1="346.90" x2="105.50" y2="349.50" stroke="#231f20" stroke-width="1.1"/>
<line x1="115.20" y1="346.90" x2="115.20" y2="349.90" stroke="#231f20" stroke-width="1.1"/>
<line x1="124.90" y1="346.90" x2="124.90" y2="349.50" stroke="#231f20" stroke-width="1.1"/>
<line x1="134.60" y1="346.90" x2="134.60" y2="349.90" stroke="#231f20" stroke-width="1.1"/>
<line x1="57.00" y1="337.10" x2="57.00" y2="346.90" stroke="#231f20" stroke-width="1.1"/>
<line x1="55.10" y1="338.50" x2="57.00" y2="337.10" stroke="#231f20" stroke-width="1.1"/>
<text x="49.00" y="349.80" font-size="8.4" text-anchor="end" textLength="4.70" lengthAdjust="spacingAndGlyphs">0</text>
<line x1="56.40" y1="368.80" x2="135.20" y2="368.80" stroke="#231f20" stroke-width="1.7"/>
<line x1="66.70" y1="368.80" x2="66.70" y2="371.40" stroke="#231f20" stroke-width="1.1"/>
<line x1="76.40" y1="368.80" x2="76.40" y2="371.80" stroke="#231f20" stroke-width="1.1"/>
<line x1="86.10" y1="368.80" x2="86.10" y2="371.40" stroke="#231f20" stroke-width="1.1"/>
<line x1="95.80" y1="368.80" x2="95.80" y2="371.80" stroke="#231f20" stroke-width="1.1"/>
<line x1="105.50" y1="368.80" x2="105.50" y2="371.40" stroke="#231f20" stroke-width="1.1"/>
<line x1="115.20" y1="368.80" x2="115.20" y2="371.80" stroke="#231f20" stroke-width="1.1"/>
<line x1="124.90" y1="368.80" x2="124.90" y2="371.40" stroke="#231f20" stroke-width="1.1"/>
<line x1="134.60" y1="368.80" x2="134.60" y2="371.80" stroke="#231f20" stroke-width="1.1"/>
<line x1="57.00" y1="359.00" x2="57.00" y2="368.80" stroke="#231f20" stroke-width="1.1"/>
<line x1="55.10" y1="360.40" x2="57.00" y2="359.00" stroke="#231f20" stroke-width="1.1"/>
<text x="49.00" y="371.70" font-size="8.4" text-anchor="end" textLength="4.70" lengthAdjust="spacingAndGlyphs">0</text>
<polyline points="57.00,288.10 76.40,262.10 115.20,210.40" stroke="#222" stroke-width="0.9" fill="none" stroke-dasharray="1 0.8"/>
<polyline points="57.00,288.10 76.40,268.90 115.20,225.80" stroke="#222" stroke-width="0.9" fill="none" stroke-dasharray="1 0.8"/>
<polyline points="57.00,288.10 76.40,280.20 115.20,262.10" stroke="#222" stroke-width="0.9" fill="none" stroke-dasharray="1 0.8"/>
<line x1="115.20" y1="199.30" x2="115.20" y2="221.00" stroke="#231f20" stroke-width="1.0"/>
<line x1="113.20" y1="199.30" x2="117.20" y2="199.30" stroke="#231f20" stroke-width="1.0"/>
<line x1="113.20" y1="221.00" x2="117.20" y2="221.00" stroke="#231f20" stroke-width="1.0"/>
<line x1="115.20" y1="218.00" x2="115.20" y2="233.00" stroke="#231f20" stroke-width="1.0"/>
<line x1="113.20" y1="218.00" x2="117.20" y2="218.00" stroke="#231f20" stroke-width="1.0"/>
<line x1="113.20" y1="233.00" x2="117.20" y2="233.00" stroke="#231f20" stroke-width="1.0"/>
<line x1="115.20" y1="255.30" x2="115.20" y2="267.10" stroke="#231f20" stroke-width="1.0"/>
<line x1="113.20" y1="255.30" x2="117.20" y2="255.30" stroke="#231f20" stroke-width="1.0"/>
<line x1="113.20" y1="267.10" x2="117.20" y2="267.10" stroke="#231f20" stroke-width="1.0"/>
<line x1="76.40" y1="259.50" x2="76.40" y2="265.00" stroke="#231f20" stroke-width="1.0"/>
<line x1="74.90" y1="259.50" x2="77.90" y2="259.50" stroke="#231f20" stroke-width="1.0"/>
<line x1="74.90" y1="265.00" x2="77.90" y2="265.00" stroke="#231f20" stroke-width="1.0"/>
<rect x="54.50" y="285.60" width="5.0" height="5.0" fill="#111" stroke="#111" stroke-width="1.2"/>
<polygon points="57.00,286.46 55.20,289.59 58.80,289.59" fill="#fff" stroke="#111" stroke-width="0.0" stroke-linejoin="miter"/>
<rect x="74.05" y="259.75" width="4.7" height="4.7" fill="#fff" stroke="#111" stroke-width="1.2"/>
<circle cx="76.40" cy="268.90" r="2.45" fill="#fff" stroke="#111" stroke-width="1.2"/>
<polygon points="76.40,277.18 73.60,282.05 79.20,282.05" fill="#fff" stroke="#111" stroke-width="1.2" stroke-linejoin="miter"/>
<rect x="112.85" y="208.05" width="4.7" height="4.7" fill="#fff" stroke="#111" stroke-width="1.2"/>
<circle cx="115.20" cy="225.80" r="2.45" fill="#fff" stroke="#111" stroke-width="1.2"/>
<polygon points="115.20,259.08 112.40,263.95 118.00,263.95" fill="#fff" stroke="#111" stroke-width="1.2" stroke-linejoin="miter"/>
<rect x="54.65" y="303.55" width="4.7" height="4.7" fill="#fff" stroke="#111" stroke-width="1.2"/>
<rect x="74.05" y="303.55" width="4.7" height="4.7" fill="#fff" stroke="#111" stroke-width="1.2"/>
<rect x="112.85" y="303.55" width="4.7" height="4.7" fill="#fff" stroke="#111" stroke-width="1.2"/>
<rect x="54.65" y="323.35" width="4.7" height="4.7" fill="#fff" stroke="#111" stroke-width="1.2"/>
<rect x="74.05" y="323.35" width="4.7" height="4.7" fill="#fff" stroke="#111" stroke-width="1.2"/>
<rect x="112.85" y="323.35" width="4.7" height="4.7" fill="#fff" stroke="#111" stroke-width="1.2"/>
<rect x="54.65" y="344.55" width="4.7" height="4.7" fill="#fff" stroke="#111" stroke-width="1.2"/>
<rect x="74.05" y="344.55" width="4.7" height="4.7" fill="#fff" stroke="#111" stroke-width="1.2"/>
<rect x="112.85" y="344.55" width="4.7" height="4.7" fill="#fff" stroke="#111" stroke-width="1.2"/>
<rect x="54.65" y="366.45" width="4.7" height="4.7" fill="#fff" stroke="#111" stroke-width="1.2"/>
<rect x="74.05" y="366.45" width="4.7" height="4.7" fill="#fff" stroke="#111" stroke-width="1.2"/>
<rect x="112.85" y="366.45" width="4.7" height="4.7" fill="#fff" stroke="#111" stroke-width="1.2"/>
<text x="57.00" y="382.20" font-size="8.2" text-anchor="middle" textLength="4.60" lengthAdjust="spacingAndGlyphs">0</text>
<text x="76.40" y="382.20" font-size="8.2" text-anchor="middle" textLength="8.50" lengthAdjust="spacingAndGlyphs">10</text>
<text x="95.80" y="382.20" font-size="8.2" text-anchor="middle" textLength="9.90" lengthAdjust="spacingAndGlyphs">20</text>
<text x="115.20" y="382.20" font-size="8.2" text-anchor="middle" textLength="9.80" lengthAdjust="spacingAndGlyphs">30</text>
<text x="134.60" y="382.20" font-size="8.2" text-anchor="middle" textLength="10.60" lengthAdjust="spacingAndGlyphs">40</text>
<text x="94.90" y="398.10" font-size="10.0" text-anchor="middle" textLength="50.90" lengthAdjust="spacingAndGlyphs">Time (min)</text>
<text x="154.50" y="296.50" font-size="10.4" textLength="59.90" lengthAdjust="spacingAndGlyphs">Full reaction</text>
<text x="154.50" y="314.70" font-size="10.4" textLength="26.50" lengthAdjust="spacingAndGlyphs">– ATP</text>
<text x="154.50" y="332.80" font-size="10.4" textLength="28.10" lengthAdjust="spacingAndGlyphs">– DTN</text>
<text x="154.50" y="352.10" font-size="10.4" textLength="18.00" lengthAdjust="spacingAndGlyphs">+ O</text>
<text x="173.00" y="354.60" font-size="6.8" textLength="3.80" lengthAdjust="spacingAndGlyphs">2</text>
<text x="154.50" y="372.50" font-size="10.4" textLength="31.10" lengthAdjust="spacingAndGlyphs">- MarH</text>
<text x="197.40" y="323.50" font-size="8.8" text-anchor="middle">O</text>
<text x="234.10" y="323.50" font-size="8.8" text-anchor="middle">O</text>
<text x="200.30" y="347.40" font-size="8.8" text-anchor="middle">O</text>
<text x="234.10" y="345.00" font-size="8.8" text-anchor="middle">O</text>
<text x="208.20" y="334.20" font-size="8.8" text-anchor="middle">S</text>
<text x="223.40" y="334.20" font-size="8.8" text-anchor="middle">S</text>
<line x1="195.40" y1="341.40" x2="197.20" y2="341.40" stroke="#231f20" stroke-width="0.8"/>
<line x1="238.40" y1="339.30" x2="240.20" y2="339.30" stroke="#231f20" stroke-width="0.8"/>
<line x1="198.90" y1="324.00" x2="205.50" y2="329.00" stroke="#231f20" stroke-width="0.9"/>
<line x1="200.10" y1="322.40" x2="206.70" y2="327.40" stroke="#231f20" stroke-width="0.9"/>
<line x1="231.84" y1="322.05" x2="225.64" y2="327.45" stroke="#231f20" stroke-width="0.9"/>
<line x1="233.16" y1="323.55" x2="226.96" y2="328.95" stroke="#231f20" stroke-width="0.9"/>
<line x1="211.60" y1="330.40" x2="220.10" y2="330.40" stroke="#231f20" stroke-width="0.9"/>
<line x1="206.10" y1="334.00" x2="202.80" y2="340.50" stroke="#231f20" stroke-width="0.9"/>
<line x1="225.90" y1="334.00" x2="231.40" y2="338.60" stroke="#231f20" stroke-width="0.9"/>
<clipPath id="cL"><rect x="0" y="0" width="77.2" height="485"/></clipPath>
<clipPath id="cR"><rect x="77.2" y="0" width="100" height="485"/></clipPath>
<clipPath id="hL"><rect x="0" y="0" width="75.5" height="485"/></clipPath>
<clipPath id="hR"><rect x="75.5" y="0" width="100" height="485"/></clipPath>
<path d="M87.40,180.00 L87.36,181.01 L87.24,181.83 L87.05,182.59 L86.77,183.30 L86.42,183.97 L86.00,184.60 L85.50,185.18 L84.94,185.72 L84.30,186.21 L83.60,186.66 L82.84,187.06 L82.01,187.41 L81.13,187.71 L80.18,187.96 L79.17,188.15 L78.10,188.29 L76.93,188.37 L75.50,188.40 L74.07,188.37 L72.90,188.29 L71.83,188.15 L70.82,187.96 L69.87,187.71 L68.99,187.41 L68.16,187.06 L67.40,186.66 L66.70,186.21 L66.06,185.72 L65.50,185.18 L65.00,184.60 L64.58,183.97 L64.23,183.30 L63.95,182.59 L63.76,181.83 L63.64,181.01 L63.60,180.00 L63.64,178.99 L63.76,178.17 L63.95,177.41 L64.23,176.70 L64.58,176.03 L65.00,175.40 L65.50,174.82 L66.06,174.28 L66.70,173.79 L67.40,173.34 L68.16,172.94 L68.99,172.59 L69.87,172.29 L70.82,172.04 L71.83,171.85 L72.90,171.71 L74.07,171.63 L75.50,171.60 L76.93,171.63 L78.10,171.71 L79.17,171.85 L80.18,172.04 L81.13,172.29 L82.01,172.59 L82.84,172.94 L83.60,173.34 L84.30,173.79 L84.94,174.28 L85.50,174.82 L86.00,175.40 L86.42,176.03 L86.77,176.70 L87.05,177.41 L87.24,178.17 L87.36,178.99 Z" fill="#fef3da" clip-path="url(#hL)"/>
<path d="M87.40,180.00 L87.36,181.01 L87.24,181.83 L87.05,182.59 L86.77,183.30 L86.42,183.97 L86.00,184.60 L85.50,185.18 L84.94,185.72 L84.30,186.21 L83.60,186.66 L82.84,187.06 L82.01,187.41 L81.13,187.71 L80.18,187.96 L79.17,188.15 L78.10,188.29 L76.93,188.37 L75.50,188.40 L74.07,188.37 L72.90,188.29 L71.83,188.15 L70.82,187.96 L69.87,187.71 L68.99,187.41 L68.16,187.06 L67.40,186.66 L66.70,186.21 L66.06,185.72 L65.50,185.18 L65.00,184.60 L64.58,183.97 L64.23,183.30 L63.95,182.59 L63.76,181.83 L63.64,181.01 L63.60,180.00 L63.64,178.99 L63.76,178.17 L63.95,177.41 L64.23,176.70 L64.58,176.03 L65.00,175.40 L65.50,174.82 L66.06,174.28 L66.70,173.79 L67.40,173.34 L68.16,172.94 L68.99,172.59 L69.87,172.29 L70.82,172.04 L71.83,171.85 L72.90,171.71 L74.07,171.63 L75.50,171.60 L76.93,171.63 L78.10,171.71 L79.17,171.85 L80.18,172.04 L81.13,172.29 L82.01,172.59 L82.84,172.94 L83.60,173.34 L84.30,173.79 L84.94,174.28 L85.50,174.82 L86.00,175.40 L86.42,176.03 L86.77,176.70 L87.05,177.41 L87.24,178.17 L87.36,178.99 Z" fill="#fdeccc" clip-path="url(#hR)"/>
<path d="M87.40,180.00 L87.36,181.01 L87.24,181.83 L87.05,182.59 L86.77,183.30 L86.42,183.97 L86.00,184.60 L85.50,185.18 L84.94,185.72 L84.30,186.21 L83.60,186.66 L82.84,187.06 L82.01,187.41 L81.13,187.71 L80.18,187.96 L79.17,188.15 L78.10,188.29 L76.93,188.37 L75.50,188.40 L74.07,188.37 L72.90,188.29 L71.83,188.15 L70.82,187.96 L69.87,187.71 L68.99,187.41 L68.16,187.06 L67.40,186.66 L66.70,186.21 L66.06,185.72 L65.50,185.18 L65.00,184.60 L64.58,183.97 L64.23,183.30 L63.95,182.59 L63.76,181.83 L63.64,181.01 L63.60,180.00 L63.64,178.99 L63.76,178.17 L63.95,177.41 L64.23,176.70 L64.58,176.03 L65.00,175.40 L65.50,174.82 L66.06,174.28 L66.70,173.79 L67.40,173.34 L68.16,172.94 L68.99,172.59 L69.87,172.29 L70.82,172.04 L71.83,171.85 L72.90,171.71 L74.07,171.63 L75.50,171.60 L76.93,171.63 L78.10,171.71 L79.17,171.85 L80.18,172.04 L81.13,172.29 L82.01,172.59 L82.84,172.94 L83.60,173.34 L84.30,173.79 L84.94,174.28 L85.50,174.82 L86.00,175.40 L86.42,176.03 L86.77,176.70 L87.05,177.41 L87.24,178.17 L87.36,178.99 Z" fill="none" stroke="#f7b70f" stroke-width="1.35"/>
<line x1="75.50" y1="171.60" x2="75.50" y2="188.40" stroke="#f7b70f" stroke-width="1.3"/>
<text x="81.40" y="183.00" font-size="8.4" text-anchor="middle" textLength="5.60" lengthAdjust="spacingAndGlyphs">H</text>
<path d="M89.15,215.70 L89.12,216.97 L89.01,217.86 L88.84,218.63 L88.59,219.34 L88.28,219.98 L87.90,220.57 L87.45,221.11 L86.93,221.61 L86.35,222.06 L85.71,222.46 L84.99,222.82 L84.21,223.13 L83.36,223.40 L82.44,223.61 L81.42,223.78 L80.31,223.90 L79.03,223.98 L77.20,224.00 L75.37,223.98 L74.09,223.90 L72.98,223.78 L71.96,223.61 L71.04,223.40 L70.19,223.13 L69.41,222.82 L68.69,222.46 L68.05,222.06 L67.47,221.61 L66.95,221.11 L66.50,220.57 L66.12,219.98 L65.81,219.34 L65.56,218.63 L65.39,217.86 L65.28,216.97 L65.25,215.70 L65.28,214.43 L65.39,213.54 L65.56,212.77 L65.81,212.06 L66.12,211.42 L66.50,210.83 L66.95,210.29 L67.47,209.79 L68.05,209.34 L68.69,208.94 L69.41,208.58 L70.19,208.27 L71.04,208.00 L71.96,207.79 L72.98,207.62 L74.09,207.50 L75.37,207.42 L77.20,207.40 L79.03,207.42 L80.31,207.50 L81.42,207.62 L82.44,207.79 L83.36,208.00 L84.21,208.27 L84.99,208.58 L85.71,208.94 L86.35,209.34 L86.93,209.79 L87.45,210.29 L87.90,210.83 L88.28,211.42 L88.59,212.06 L88.84,212.77 L89.01,213.54 L89.12,214.43 Z" fill="#e2a90e" clip-path="url(#cL)"/>
<path d="M89.15,215.70 L89.12,216.97 L89.01,217.86 L88.84,218.63 L88.59,219.34 L88.28,219.98 L87.90,220.57 L87.45,221.11 L86.93,221.61 L86.35,222.06 L85.71,222.46 L84.99,222.82 L84.21,223.13 L83.36,223.40 L82.44,223.61 L81.42,223.78 L80.31,223.90 L79.03,223.98 L77.20,224.00 L75.37,223.98 L74.09,223.90 L72.98,223.78 L71.96,223.61 L71.04,223.40 L70.19,223.13 L69.41,222.82 L68.69,222.46 L68.05,222.06 L67.47,221.61 L66.95,221.11 L66.50,220.57 L66.12,219.98 L65.81,219.34 L65.56,218.63 L65.39,217.86 L65.28,216.97 L65.25,215.70 L65.28,214.43 L65.39,213.54 L65.56,212.77 L65.81,212.06 L66.12,211.42 L66.50,210.83 L66.95,210.29 L67.47,209.79 L68.05,209.34 L68.69,208.94 L69.41,208.58 L70.19,208.27 L71.04,208.00 L71.96,207.79 L72.98,207.62 L74.09,207.50 L75.37,207.42 L77.20,207.40 L79.03,207.42 L80.31,207.50 L81.42,207.62 L82.44,207.79 L83.36,208.00 L84.21,208.27 L84.99,208.58 L85.71,208.94 L86.35,209.34 L86.93,209.79 L87.45,210.29 L87.90,210.83 L88.28,211.42 L88.59,212.06 L88.84,212.77 L89.01,213.54 L89.12,214.43 Z" fill="#fbd55e" clip-path="url(#cR)"/>
<path d="M89.15,215.70 L89.12,216.97 L89.01,217.86 L88.84,218.63 L88.59,219.34 L88.28,219.98 L87.90,220.57 L87.45,221.11 L86.93,221.61 L86.35,222.06 L85.71,222.46 L84.99,222.82 L84.21,223.13 L83.36,223.40 L82.44,223.61 L81.42,223.78 L80.31,223.90 L79.03,223.98 L77.20,224.00 L75.37,223.98 L74.09,223.90 L72.98,223.78 L71.96,223.61 L71.04,223.40 L70.19,223.13 L69.41,222.82 L68.69,222.46 L68.05,222.06 L67.47,221.61 L66.95,221.11 L66.50,220.57 L66.12,219.98 L65.81,219.34 L65.56,218.63 L65.39,217.86 L65.28,216.97 L65.25,215.70 L65.28,214.43 L65.39,213.54 L65.56,212.77 L65.81,212.06 L66.12,211.42 L66.50,210.83 L66.95,210.29 L67.47,209.79 L68.05,209.34 L68.69,208.94 L69.41,208.58 L70.19,208.27 L71.04,208.00 L71.96,207.79 L72.98,207.62 L74.09,207.50 L75.37,207.42 L77.20,207.40 L79.03,207.42 L80.31,207.50 L81.42,207.62 L82.44,207.79 L83.36,208.00 L84.21,208.27 L84.99,208.58 L85.71,208.94 L86.35,209.34 L86.93,209.79 L87.45,210.29 L87.90,210.83 L88.28,211.42 L88.59,212.06 L88.84,212.77 L89.01,213.54 L89.12,214.43 Z" fill="none" stroke="#8d6a10" stroke-width="1.1"/>
<path d="M89.15,201.50 L89.12,202.79 L89.01,203.68 L88.84,204.47 L88.59,205.18 L88.28,205.83 L87.90,206.43 L87.45,206.98 L86.93,207.48 L86.35,207.93 L85.71,208.34 L84.99,208.71 L84.21,209.02 L83.36,209.29 L82.44,209.51 L81.42,209.68 L80.31,209.80 L79.03,209.88 L77.20,209.90 L75.37,209.88 L74.09,209.80 L72.98,209.68 L71.96,209.51 L71.04,209.29 L70.19,209.02 L69.41,208.71 L68.69,208.34 L68.05,207.93 L67.47,207.48 L66.95,206.98 L66.50,206.43 L66.12,205.83 L65.81,205.18 L65.56,204.47 L65.39,203.68 L65.28,202.79 L65.25,201.50 L65.28,200.21 L65.39,199.32 L65.56,198.53 L65.81,197.82 L66.12,197.17 L66.50,196.57 L66.95,196.02 L67.47,195.52 L68.05,195.07 L68.69,194.66 L69.41,194.29 L70.19,193.98 L71.04,193.71 L71.96,193.49 L72.98,193.32 L74.09,193.20 L75.37,193.12 L77.20,193.10 L79.03,193.12 L80.31,193.20 L81.42,193.32 L82.44,193.49 L83.36,193.71 L84.21,193.98 L84.99,194.29 L85.71,194.66 L86.35,195.07 L86.93,195.52 L87.45,196.02 L87.90,196.57 L88.28,197.17 L88.59,197.82 L88.84,198.53 L89.01,199.32 L89.12,200.21 Z" fill="#fbd55e" clip-path="url(#cL)"/>
<path d="M89.15,201.50 L89.12,202.79 L89.01,203.68 L88.84,204.47 L88.59,205.18 L88.28,205.83 L87.90,206.43 L87.45,206.98 L86.93,207.48 L86.35,207.93 L85.71,208.34 L84.99,208.71 L84.21,209.02 L83.36,209.29 L82.44,209.51 L81.42,209.68 L80.31,209.80 L79.03,209.88 L77.20,209.90 L75.37,209.88 L74.09,209.80 L72.98,209.68 L71.96,209.51 L71.04,209.29 L70.19,209.02 L69.41,208.71 L68.69,208.34 L68.05,207.93 L67.47,207.48 L66.95,206.98 L66.50,206.43 L66.12,205.83 L65.81,205.18 L65.56,204.47 L65.39,203.68 L65.28,202.79 L65.25,201.50 L65.28,200.21 L65.39,199.32 L65.56,198.53 L65.81,197.82 L66.12,197.17 L66.50,196.57 L66.95,196.02 L67.47,195.52 L68.05,195.07 L68.69,194.66 L69.41,194.29 L70.19,193.98 L71.04,193.71 L71.96,193.49 L72.98,193.32 L74.09,193.20 L75.37,193.12 L77.20,193.10 L79.03,193.12 L80.31,193.20 L81.42,193.32 L82.44,193.49 L83.36,193.71 L84.21,193.98 L84.99,194.29 L85.71,194.66 L86.35,195.07 L86.93,195.52 L87.45,196.02 L87.90,196.57 L88.28,197.17 L88.59,197.82 L88.84,198.53 L89.01,199.32 L89.12,200.21 Z" fill="#e2a90e" clip-path="url(#cR)"/>
<path d="M89.15,201.50 L89.12,202.79 L89.01,203.68 L88.84,204.47 L88.59,205.18 L88.28,205.83 L87.90,206.43 L87.45,206.98 L86.93,207.48 L86.35,207.93 L85.71,208.34 L84.99,208.71 L84.21,209.02 L83.36,209.29 L82.44,209.51 L81.42,209.68 L80.31,209.80 L79.03,209.88 L77.20,209.90 L75.37,209.88 L74.09,209.80 L72.98,209.68 L71.96,209.51 L71.04,209.29 L70.19,209.02 L69.41,208.71 L68.69,208.34 L68.05,207.93 L67.47,207.48 L66.95,206.98 L66.50,206.43 L66.12,205.83 L65.81,205.18 L65.56,204.47 L65.39,203.68 L65.28,202.79 L65.25,201.50 L65.28,200.21 L65.39,199.32 L65.56,198.53 L65.81,197.82 L66.12,197.17 L66.50,196.57 L66.95,196.02 L67.47,195.52 L68.05,195.07 L68.69,194.66 L69.41,194.29 L70.19,193.98 L71.04,193.71 L71.96,193.49 L72.98,193.32 L74.09,193.20 L75.37,193.12 L77.20,193.10 L79.03,193.12 L80.31,193.20 L81.42,193.32 L82.44,193.49 L83.36,193.71 L84.21,193.98 L84.99,194.29 L85.71,194.66 L86.35,195.07 L86.93,195.52 L87.45,196.02 L87.90,196.57 L88.28,197.17 L88.59,197.82 L88.84,198.53 L89.01,199.32 L89.12,200.21 Z" fill="none" stroke="#8d6a10" stroke-width="1.1"/>
<line x1="77.20" y1="193.10" x2="77.20" y2="224.00" stroke="#8d6a10" stroke-width="1.1"/>
<text x="71.30" y="205.20" font-size="8.4" text-anchor="middle" textLength="5.20" lengthAdjust="spacingAndGlyphs">K</text>
<text x="83.00" y="205.20" font-size="8.4" text-anchor="middle" textLength="5.60" lengthAdjust="spacingAndGlyphs">D</text>
<polyline points="133.90,198.00 143.80,192.60" stroke="#111" stroke-width="1.0" fill="none" stroke-linecap="butt" stroke-linejoin="round"/>
<text x="148.20" y="194.20" font-size="8.6" text-anchor="middle">S</text>
<polyline points="151.90,192.60 162.10,198.00 177.90,190.20 185.30,194.50" stroke="#111" stroke-width="1.0" fill="none" stroke-linecap="butt" stroke-linejoin="round"/>
<text x="192.70" y="201.30" font-size="8.6" text-anchor="middle" textLength="12.60" lengthAdjust="spacingAndGlyphs">OH</text>
<line x1="184.00" y1="207.40" x2="196.30" y2="207.40" stroke="#000" stroke-width="1.6"/>
<polygon points="200.80,207.40 194.80,204.80 194.80,210.00" fill="#000"/>
<line x1="207.60" y1="205.60" x2="229.30" y2="205.60" stroke="#777" stroke-width="1.1"/>
<line x1="207.60" y1="209.30" x2="229.30" y2="209.30" stroke="#777" stroke-width="1.1"/>
<polyline points="135.20,232.00 145.40,226.40" stroke="#111" stroke-width="1.0" fill="none" stroke-linecap="butt" stroke-linejoin="round"/>
<text x="149.10" y="227.80" font-size="8.6" text-anchor="middle">S</text>
<polyline points="152.80,226.80 164.00,232.00 177.90,224.00" stroke="#111" stroke-width="1.0" fill="none" stroke-linecap="butt" stroke-linejoin="round"/>
<line x1="183.40" y1="229.20" x2="196.30" y2="229.20" stroke="#000" stroke-width="1.6"/>
<polygon points="200.80,229.20 194.80,226.60 194.80,231.80" fill="#000"/>
<line x1="208.10" y1="229.50" x2="229.80" y2="229.50" stroke="#777" stroke-width="1.1"/>
<polyline points="135.20,260.70 145.80,255.10" stroke="#111" stroke-width="1.0" fill="none" stroke-linecap="butt" stroke-linejoin="round"/>
<text x="148.70" y="256.20" font-size="8.6" text-anchor="middle">S</text>
<polyline points="152.50,255.10 163.00,260.70" stroke="#111" stroke-width="1.0" fill="none" stroke-linecap="butt" stroke-linejoin="round"/>
<line x1="183.40" y1="256.40" x2="196.30" y2="256.40" stroke="#000" stroke-width="1.6"/>
<polygon points="200.80,256.40 194.80,253.80 194.80,259.00" fill="#000"/>
<text x="206.60" y="260.10" font-size="12.0" textLength="17.60" lengthAdjust="spacingAndGlyphs">CH</text>
<text x="224.60" y="263.20" font-size="8.0" textLength="5.00" lengthAdjust="spacingAndGlyphs">4</text>
<text x="274.00" y="198.10" font-size="15.2" textLength="9.40" lengthAdjust="spacingAndGlyphs" font-weight="bold" fill="#000" stroke="#000" stroke-width="0.85" stroke-linejoin="round">d</text>
<text x="343.10" y="199.00" font-size="9.6" textLength="22.70" lengthAdjust="spacingAndGlyphs">MAR</text>
<line x1="343.10" y1="200.60" x2="365.80" y2="200.60" stroke="#231f20" stroke-width="0.8"/>
<text x="409.40" y="198.00" font-size="9.6" textLength="7.60" lengthAdjust="spacingAndGlyphs">N</text>
<text x="417.20" y="200.60" font-size="6.4" textLength="3.80" lengthAdjust="spacingAndGlyphs">2</text>
<text x="421.40" y="198.00" font-size="9.6" textLength="15.70" lengthAdjust="spacingAndGlyphs">ase</text>
<line x1="409.40" y1="200.00" x2="437.10" y2="200.00" stroke="#231f20" stroke-width="0.8"/>
<line x1="416.90" y1="202.60" x2="421.30" y2="202.60" stroke="#231f20" stroke-width="0.8"/>
<line x1="328.50" y1="217.30" x2="328.50" y2="368.90" stroke="#333" stroke-width="1.1"/>
<line x1="325.20" y1="368.40" x2="437.50" y2="368.40" stroke="#333" stroke-width="1.1"/>
<line x1="325.90" y1="345.73" x2="328.50" y2="345.73" stroke="#555" stroke-width="0.9"/>
<line x1="325.90" y1="332.47" x2="328.50" y2="332.47" stroke="#555" stroke-width="0.9"/>
<line x1="325.90" y1="323.06" x2="328.50" y2="323.06" stroke="#555" stroke-width="0.9"/>
<line x1="325.90" y1="315.77" x2="328.50" y2="315.77" stroke="#555" stroke-width="0.9"/>
<line x1="325.90" y1="309.81" x2="328.50" y2="309.81" stroke="#555" stroke-width="0.9"/>
<line x1="325.90" y1="304.76" x2="328.50" y2="304.76" stroke="#555" stroke-width="0.9"/>
<line x1="325.90" y1="300.40" x2="328.50" y2="300.40" stroke="#555" stroke-width="0.9"/>
<line x1="325.90" y1="296.55" x2="328.50" y2="296.55" stroke="#555" stroke-width="0.9"/>
<line x1="325.90" y1="270.43" x2="328.50" y2="270.43" stroke="#555" stroke-width="0.9"/>
<line x1="325.90" y1="257.17" x2="328.50" y2="257.17" stroke="#555" stroke-width="0.9"/>
<line x1="325.90" y1="247.76" x2="328.50" y2="247.76" stroke="#555" stroke-width="0.9"/>
<line x1="325.90" y1="240.47" x2="328.50" y2="240.47" stroke="#555" stroke-width="0.9"/>
<line x1="325.90" y1="234.51" x2="328.50" y2="234.51" stroke="#555" stroke-width="0.9"/>
<line x1="325.90" y1="229.46" x2="328.50" y2="229.46" stroke="#555" stroke-width="0.9"/>
<line x1="325.90" y1="225.10" x2="328.50" y2="225.10" stroke="#555" stroke-width="0.9"/>
<line x1="325.90" y1="221.25" x2="328.50" y2="221.25" stroke="#555" stroke-width="0.9"/>
<line x1="324.50" y1="368.40" x2="328.50" y2="368.40" stroke="#333" stroke-width="1.0"/>
<text x="320.40" y="372.00" font-size="10.2" text-anchor="end" textLength="4.60" lengthAdjust="spacingAndGlyphs">1</text>
<line x1="324.50" y1="293.10" x2="328.50" y2="293.10" stroke="#333" stroke-width="1.0"/>
<text x="320.40" y="296.70" font-size="10.2" text-anchor="end" textLength="10.10" lengthAdjust="spacingAndGlyphs">10</text>
<line x1="324.50" y1="217.80" x2="328.50" y2="217.80" stroke="#333" stroke-width="1.0"/>
<text x="320.40" y="221.40" font-size="10.2" text-anchor="end" textLength="17.50" lengthAdjust="spacingAndGlyphs">100</text>
<text x="283.20" y="294.30" font-size="10.0" text-anchor="middle" textLength="76.50" lengthAdjust="spacingAndGlyphs" transform="rotate(-90 283.20 294.30)">Specific activity</text>
<text x="294.70" y="295.00" font-size="10.0" text-anchor="middle" textLength="121.30" lengthAdjust="spacingAndGlyphs" transform="rotate(-90 294.70 295.00)">(nmol/nmol protein/min)</text>
<rect x="331.40" y="326.00" width="12.50" height="42.40" fill="#c2c2c2" stroke="#707070" stroke-width="0.8"/>
<rect x="349.40" y="333.30" width="13.20" height="35.10" fill="#c2c2c2" stroke="#707070" stroke-width="0.8"/>
<rect x="367.80" y="361.20" width="12.70" height="7.20" fill="#c2c2c2" stroke="#707070" stroke-width="0.8"/>
<rect x="404.50" y="272.40" width="12.40" height="96.00" fill="#e6e6e6" stroke="#707070" stroke-width="0.8"/>
<rect x="422.30" y="233.20" width="13.60" height="135.20" fill="#e6e6e6" stroke="#707070" stroke-width="0.8"/>
<circle cx="334.60" cy="320.20" r="3.0" fill="#fff" stroke="#222" stroke-width="0.9"/>
<circle cx="334.60" cy="325.10" r="3.0" fill="#fff" stroke="#222" stroke-width="0.9"/>
<circle cx="334.60" cy="329.80" r="3.0" fill="#fff" stroke="#222" stroke-width="0.9"/>
<line x1="338.20" y1="322.00" x2="338.20" y2="329.30" stroke="#444" stroke-width="0.8"/>
<line x1="338.20" y1="322.00" x2="340.20" y2="322.00" stroke="#444" stroke-width="0.8"/>
<line x1="338.20" y1="329.30" x2="340.20" y2="329.30" stroke="#444" stroke-width="0.8"/>
<circle cx="353.10" cy="329.20" r="3.0" fill="#fff" stroke="#222" stroke-width="0.9"/>
<circle cx="353.10" cy="332.40" r="3.0" fill="#fff" stroke="#222" stroke-width="0.9"/>
<circle cx="353.10" cy="335.60" r="3.0" fill="#fff" stroke="#222" stroke-width="0.9"/>
<line x1="356.70" y1="331.00" x2="356.70" y2="335.10" stroke="#444" stroke-width="0.8"/>
<line x1="356.70" y1="331.00" x2="358.70" y2="331.00" stroke="#444" stroke-width="0.8"/>
<line x1="356.70" y1="335.10" x2="358.70" y2="335.10" stroke="#444" stroke-width="0.8"/>
<circle cx="371.30" cy="359.20" r="3.0" fill="#fff" stroke="#222" stroke-width="0.9"/>
<circle cx="371.30" cy="362.40" r="3.0" fill="#fff" stroke="#222" stroke-width="0.9"/>
<circle cx="371.30" cy="366.00" r="3.0" fill="#fff" stroke="#222" stroke-width="0.9"/>
<line x1="374.90" y1="361.00" x2="374.90" y2="365.50" stroke="#444" stroke-width="0.8"/>
<line x1="374.90" y1="361.00" x2="376.90" y2="361.00" stroke="#444" stroke-width="0.8"/>
<line x1="374.90" y1="365.50" x2="376.90" y2="365.50" stroke="#444" stroke-width="0.8"/>
<rect x="407.9" y="270.9" width="6.2" height="3.0" rx="1.2" fill="#000"/>
<rect x="426.0" y="231.6" width="6.0" height="3.0" rx="1.2" fill="#000"/>
<path d="M410.60,279.80 L410.60,277.30 M410.60,279.80 L412.98,279.03 M410.60,279.80 L412.07,281.82 M410.60,279.80 L409.13,281.82 M410.60,279.80 L408.22,279.03 " stroke="#111" stroke-width="1.05" stroke-linecap="butt" fill="none"/>
<path d="M428.80,239.60 L428.80,237.10 M428.80,239.60 L431.18,238.83 M428.80,239.60 L430.27,241.62 M428.80,239.60 L427.33,241.62 M428.80,239.60 L426.42,238.83 " stroke="#111" stroke-width="1.05" stroke-linecap="butt" fill="none"/>
<text x="400.80" y="263.40" font-size="10.0" textLength="14.40" lengthAdjust="spacingAndGlyphs">NH</text>
<text x="415.30" y="266.30" font-size="6.8" textLength="4.00" lengthAdjust="spacingAndGlyphs">3</text>
<text x="419.80" y="225.80" font-size="10.0" textLength="14.40" lengthAdjust="spacingAndGlyphs">NH</text>
<text x="434.40" y="228.70" font-size="6.8" textLength="4.00" lengthAdjust="spacingAndGlyphs">3</text>
<text x="366.80" y="331.50" font-size="10.0" textLength="14.40" lengthAdjust="spacingAndGlyphs">CH</text>
<text x="381.30" y="334.40" font-size="6.8" textLength="4.00" lengthAdjust="spacingAndGlyphs">4</text>
<line x1="333.10" y1="292.80" x2="354.30" y2="292.80" stroke="#555" stroke-width="1.1"/>
<line x1="333.10" y1="295.90" x2="354.30" y2="295.90" stroke="#555" stroke-width="1.1"/>
<line x1="352.20" y1="309.20" x2="373.40" y2="309.20" stroke="#555" stroke-width="1.1"/>
<text transform="translate(413.9 352.8) rotate(-90)" font-size="9"><tspan x="0" y="0" font-size="9.0" textLength="17.6" lengthAdjust="spacingAndGlyphs">Fe N</tspan><tspan x="17.9" y="1.4" font-size="5.8" textLength="2.6" lengthAdjust="spacingAndGlyphs">2</tspan><tspan x="20.4" y="0" font-size="9.0" textLength="13.3" lengthAdjust="spacingAndGlyphs">ase</tspan></text>
<text transform="translate(432.4 352.8) rotate(-90)" font-size="9"><tspan x="0" y="0" font-size="9.0" textLength="20.1" lengthAdjust="spacingAndGlyphs">Mo N</tspan><tspan x="20.3" y="1.4" font-size="5.8" textLength="2.6" lengthAdjust="spacingAndGlyphs">2</tspan><tspan x="22.6" y="0" font-size="9.0" textLength="14.8" lengthAdjust="spacingAndGlyphs">ase</tspan></text>
<text x="344.80" y="378.90" font-size="10.4" text-anchor="end" textLength="95.20" lengthAdjust="spacingAndGlyphs" transform="rotate(-45 344.80 378.90)">2-Methylthioethanol</text>
<text x="354.60" y="385.30" font-size="10.4" text-anchor="end" textLength="93.20" lengthAdjust="spacingAndGlyphs" transform="rotate(-45 354.60 385.30)">Ethyl methylsulfide</text>
<text x="363.40" y="393.90" font-size="10.4" text-anchor="end" textLength="76.80" lengthAdjust="spacingAndGlyphs" transform="rotate(-45 363.40 393.90)">Dimethylsulfide</text>
<text x="420.30" y="376.40" font-size="10.4" text-anchor="end" textLength="52.00" lengthAdjust="spacingAndGlyphs" transform="rotate(-45 420.30 376.40)">Dinitrogen</text>
<text x="429.20" y="385.40" font-size="10.4" text-anchor="end" textLength="51.50" lengthAdjust="spacingAndGlyphs" transform="rotate(-45 429.20 385.40)">Dinitrogen</text>
<text x="472.80" y="344.60" font-size="15.2" textLength="6.00" lengthAdjust="spacingAndGlyphs" font-weight="bold" fill="#000" stroke="#000" stroke-width="0.85" stroke-linejoin="round">f</text>
<line x1="524.30" y1="341.60" x2="524.30" y2="451.60" stroke="#333" stroke-width="1.1"/>
<line x1="524.30" y1="451.60" x2="665.20" y2="451.60" stroke="#333" stroke-width="1.1"/>
<line x1="520.10" y1="451.60" x2="524.30" y2="451.60" stroke="#333" stroke-width="1.0"/>
<text x="514.60" y="454.60" font-size="8.6" text-anchor="end" textLength="4.80" lengthAdjust="spacingAndGlyphs">0</text>
<line x1="520.10" y1="429.70" x2="524.30" y2="429.70" stroke="#333" stroke-width="1.0"/>
<text x="514.60" y="432.70" font-size="8.6" text-anchor="end" textLength="9.40" lengthAdjust="spacingAndGlyphs">15</text>
<line x1="520.10" y1="407.80" x2="524.30" y2="407.80" stroke="#333" stroke-width="1.0"/>
<text x="514.60" y="410.80" font-size="8.6" text-anchor="end" textLength="9.40" lengthAdjust="spacingAndGlyphs">30</text>
<line x1="520.10" y1="385.90" x2="524.30" y2="385.90" stroke="#333" stroke-width="1.0"/>
<text x="514.60" y="388.90" font-size="8.6" text-anchor="end" textLength="9.40" lengthAdjust="spacingAndGlyphs">45</text>
<line x1="520.10" y1="364.00" x2="524.30" y2="364.00" stroke="#333" stroke-width="1.0"/>
<text x="514.60" y="367.00" font-size="8.6" text-anchor="end" textLength="9.40" lengthAdjust="spacingAndGlyphs">60</text>
<line x1="520.10" y1="342.10" x2="524.30" y2="342.10" stroke="#333" stroke-width="1.0"/>
<text x="514.60" y="345.10" font-size="8.6" text-anchor="end" textLength="9.40" lengthAdjust="spacingAndGlyphs">75</text>
<line x1="524.30" y1="451.60" x2="524.30" y2="454.80" stroke="#333" stroke-width="1.0"/>
<text x="524.30" y="468.20" font-size="8.6" text-anchor="middle" textLength="4.80" lengthAdjust="spacingAndGlyphs">0</text>
<line x1="559.40" y1="451.60" x2="559.40" y2="454.80" stroke="#333" stroke-width="1.0"/>
<text x="559.40" y="468.20" font-size="8.6" text-anchor="middle" textLength="12.20" lengthAdjust="spacingAndGlyphs">0.5</text>
<line x1="594.50" y1="451.60" x2="594.50" y2="454.80" stroke="#333" stroke-width="1.0"/>
<text x="594.50" y="468.20" font-size="8.6" text-anchor="middle" textLength="12.20" lengthAdjust="spacingAndGlyphs">1.0</text>
<line x1="629.60" y1="451.60" x2="629.60" y2="454.80" stroke="#333" stroke-width="1.0"/>
<text x="629.60" y="468.20" font-size="8.6" text-anchor="middle" textLength="12.20" lengthAdjust="spacingAndGlyphs">1.5</text>
<line x1="664.70" y1="451.60" x2="664.70" y2="454.80" stroke="#333" stroke-width="1.0"/>
<text x="664.70" y="468.20" font-size="8.6" text-anchor="middle" textLength="12.20" lengthAdjust="spacingAndGlyphs">2.0</text>
<text x="591.20" y="483.20" font-size="10.0" text-anchor="middle" textLength="47.30" lengthAdjust="spacingAndGlyphs">δCO (ATM)</text>
<text x="484.10" y="398.50" font-size="10.0" text-anchor="middle" textLength="38.20" lengthAdjust="spacingAndGlyphs" transform="rotate(-90 484.10 398.50)">Activity</text>
<text transform="translate(494.4 439.2) rotate(-90)" font-size="9.8"><tspan x="0" y="0" font-size="9.8" textLength="46.3" lengthAdjust="spacingAndGlyphs">(nmol min</tspan><tspan x="47.4" y="-4.4" font-size="6.6" textLength="6.0" lengthAdjust="spacingAndGlyphs">−1</tspan><tspan x="57.2" y="0" font-size="9.8" textLength="14.6" lengthAdjust="spacingAndGlyphs">mg</tspan><tspan x="73.2" y="-4.4" font-size="6.6" textLength="5.8" lengthAdjust="spacingAndGlyphs">−1</tspan><tspan x="79.6" y="0" font-size="9.8" textLength="3.3" lengthAdjust="spacingAndGlyphs">)</tspan></text>
<circle cx="571.10" cy="344.60" r="3.5" fill="#fff" stroke="#222" stroke-width="1.0"/>
<rect x="567.1" y="358.6" width="8" height="8" fill="#000"/>
<text x="580.60" y="347.80" font-size="9.4" textLength="65.10" lengthAdjust="spacingAndGlyphs">2:1 MarH:MarDK</text>
<text x="580.60" y="366.10" font-size="9.4" textLength="63.20" lengthAdjust="spacingAndGlyphs">1:1 MarH:MarDK</text>
<path d="M524.30,427.80 C525.52,426.53 534.14,419.39 536.50,415.10 C538.86,410.81 545.34,383.74 547.90,384.90 C550.46,386.06 558.79,420.76 562.10,426.70 C565.41,432.64 575.33,441.81 581.00,444.30 C586.67,446.79 610.78,450.87 618.80,451.60 C626.82,452.33 656.96,451.60 661.20,451.60" stroke="#222" stroke-width="0.9" fill="none"/>
<path d="M524.30,417.00 C525.52,416.27 534.14,415.21 536.50,409.70 C538.86,404.19 545.34,359.39 547.90,361.90 C550.46,364.41 558.79,426.24 562.10,434.80 C565.41,443.36 575.33,445.82 581.00,447.50 C586.67,449.18 610.78,451.19 618.80,451.60 C626.82,452.01 656.96,451.60 661.20,451.60" stroke="#222" stroke-width="0.9" fill="none"/>
<line x1="547.90" y1="353.80" x2="547.90" y2="361.90" stroke="#333" stroke-width="0.9"/>
<line x1="545.70" y1="353.80" x2="550.10" y2="353.80" stroke="#333" stroke-width="0.9"/>
<line x1="547.90" y1="373.00" x2="547.90" y2="384.90" stroke="#333" stroke-width="0.9"/>
<line x1="545.70" y1="373.00" x2="550.10" y2="373.00" stroke="#333" stroke-width="0.9"/>
<line x1="562.10" y1="412.40" x2="562.10" y2="426.70" stroke="#333" stroke-width="0.9"/>
<line x1="559.90" y1="412.40" x2="564.30" y2="412.40" stroke="#333" stroke-width="0.9"/>
<line x1="562.10" y1="440.80" x2="562.10" y2="434.80" stroke="#333" stroke-width="0.9"/>
<line x1="559.90" y1="440.80" x2="564.30" y2="440.80" stroke="#333" stroke-width="0.9"/>
<line x1="581.00" y1="434.80" x2="581.00" y2="444.30" stroke="#333" stroke-width="0.9"/>
<line x1="578.80" y1="434.80" x2="583.20" y2="434.80" stroke="#333" stroke-width="0.9"/>
<line x1="536.50" y1="405.00" x2="536.50" y2="415.10" stroke="#333" stroke-width="0.9"/>
<line x1="534.70" y1="405.00" x2="538.30" y2="405.00" stroke="#333" stroke-width="0.9"/>
<rect x="520.40" y="423.90" width="7.8" height="7.8" fill="#000"/>
<rect x="532.60" y="411.20" width="7.8" height="7.8" fill="#000"/>
<rect x="544.00" y="381.00" width="7.8" height="7.8" fill="#000"/>
<rect x="558.20" y="422.80" width="7.8" height="7.8" fill="#000"/>
<rect x="577.10" y="440.40" width="7.8" height="7.8" fill="#000"/>
<rect x="614.90" y="447.70" width="7.8" height="7.8" fill="#000"/>
<rect x="657.30" y="447.70" width="7.8" height="7.8" fill="#000"/>
<circle cx="524.30" cy="417.00" r="3.8" fill="#fff" stroke="#222" stroke-width="1.0"/>
<circle cx="536.50" cy="409.70" r="3.8" fill="#fff" stroke="#222" stroke-width="1.0"/>
<circle cx="547.90" cy="361.90" r="3.8" fill="#fff" stroke="#222" stroke-width="1.0"/>
<circle cx="562.10" cy="434.80" r="3.8" fill="#fff" stroke="#222" stroke-width="1.0"/>
<circle cx="581.00" cy="447.50" r="3.8" fill="#fff" stroke="#222" stroke-width="1.0"/>
<circle cx="618.80" cy="451.60" r="3.8" fill="#fff" stroke="#222" stroke-width="1.0"/>
<circle cx="661.20" cy="451.60" r="3.8" fill="#fff" stroke="#222" stroke-width="1.0"/>
<polyline points="566.20,399.40 575.60,393.50" stroke="#111" stroke-width="0.9" fill="none" stroke-linecap="butt" stroke-linejoin="round"/>
<text x="579.70" y="394.40" font-size="8.4" text-anchor="middle">S</text>
<polyline points="582.40,394.00 593.20,398.90 608.00,391.30 616.10,395.70" stroke="#111" stroke-width="0.9" fill="none" stroke-linecap="butt" stroke-linejoin="round"/>
<text x="623.80" y="402.00" font-size="8.4" text-anchor="middle" textLength="12.60" lengthAdjust="spacingAndGlyphs">OH</text>
<line x1="632.30" y1="392.20" x2="644.00" y2="392.20" stroke="#000" stroke-width="1.5"/>
<polygon points="648.50,392.20 642.50,389.60 642.50,394.80" fill="#000"/>
<line x1="657.20" y1="391.30" x2="678.80" y2="391.30" stroke="#777" stroke-width="1.1"/>
<line x1="657.20" y1="394.90" x2="678.80" y2="394.90" stroke="#777" stroke-width="1.1"/>
</svg>
</body></html>
